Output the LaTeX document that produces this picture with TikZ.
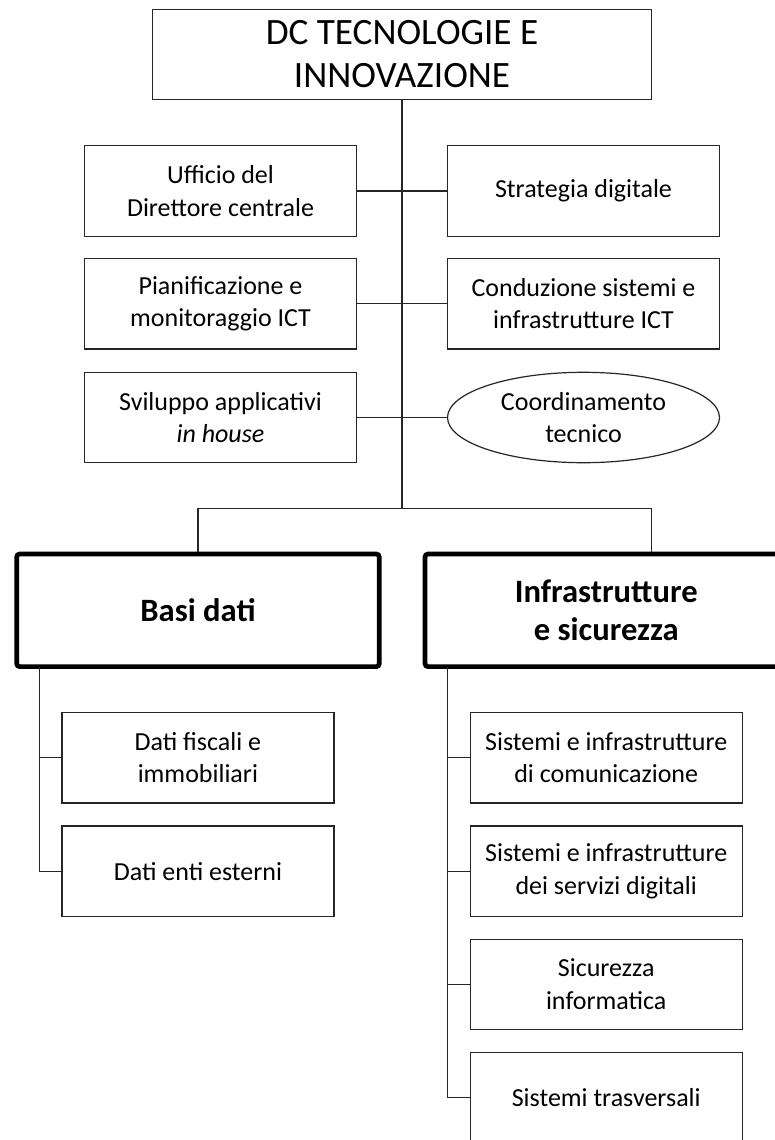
\documentclass[tikz,border=0pt]{standalone}
\usepackage{fontspec}
\setmainfont{Carlito}
\usetikzlibrary{shapes.geometric}
\tikzset{
	line/.style={draw=black!85, line width=0.6pt},
	office/.style={line, fill=white, rectangle, minimum width=136pt, minimum height=45.2pt, inner sep=0pt, align=center, font=\fontsize{13}{16.2}\selectfont},
	staff/.style={office, ellipse},
	topbox/.style={office, minimum width=249.7pt, minimum height=45pt, font=\fontsize{18.6}{21.5}\selectfont},
	area/.style={office, draw=black, line width=2.35pt, rounded corners=1.5pt, minimum width=181.3pt, minimum height=56.3pt, font=\fontsize{16.3}{18.7}\selectfont\bfseries},
}
\begin{document}
\begin{tikzpicture}[x=0.5pt,y=-0.5pt]
	\clip (0,0) rectangle (775,1140);
	\fill[white] (0,0) rectangle (775,1140);
	% direzione centrale
	\node[topbox] (dc) at (402,54.3) {DC TECNOLOGIE E\\INNOVAZIONE};
	
	% uffici di staff, left and right column
	\node[office] (uff) at (220.5,191) {Ufficio del\\Direttore centrale};
	\node[office] (strat) at (583.5,191) {Strategia digitale};
	\node[office] (pian) at (220.5,303.8) {Pianificazione e\\monitoraggio ICT};
	\node[office] (cond) at (583.5,303.8) {Conduzione sistemi e\\infrastrutture ICT};
	\node[office] (svil) at (220.5,417.5) {Sviluppo applicativi\\\textit{in house}};
	\node[staff] (coord) at (583.5,417.5) {Coordinamento\\tecnico};
	
	% settori
	\node[area] (basi) at (198,610.3) {Basi dati};
	\node[area] (infra) at (606.3,610.3) {Infrastrutture\\e sicurezza};
	
	% uffici of Basi dati
	\node[office] (dfis) at (197.9,757.7) {Dati fiscali e\\immobiliari};
	\node[office] (dent) at (197.9,871.2) {Dati enti esterni};
	
	% uffici of Infrastrutture e sicurezza
	\node[office] (scom) at (606.2,757.7) {Sistemi e infrastrutture\\di comunicazione};
	\node[office] (sdig) at (606.2,871.2) {Sistemi e infrastrutture\\dei servizi digitali};
	\node[office] (sic) at (606.2,984.3) {Sicurezza\\informatica};
	\node[office] (strv) at (606.2,1097.7) {Sistemi trasversali};
	
	% connectors
	\coordinate (bus) at (402,508.3);
	\coordinate (busR) at (651.7,508.3);
	\coordinate (spL) at (39.3,666.7);
	\coordinate (spR) at (447.7,666.7);
	\draw[line] (dc.south) -- (bus);
	\draw[line] (uff.east) -- (strat.west);
	\draw[line] (pian.east) -- (cond.west);
	\draw[line] (svil.east) -- (coord.west);
	\draw[line] (basi.north) |- (busR) -- (infra.north -| busR);
	\draw[line] (spL) |- (dent.west);
	\draw[line] (dfis.west) -- (dfis.west -| spL);
	\draw[line] (spR) |- (strv.west);
	\foreach \n in {scom,sdig,sic}
		\draw[line] (\n.west) -- (\n.west -| spR);
\end{tikzpicture}
\end{document}
